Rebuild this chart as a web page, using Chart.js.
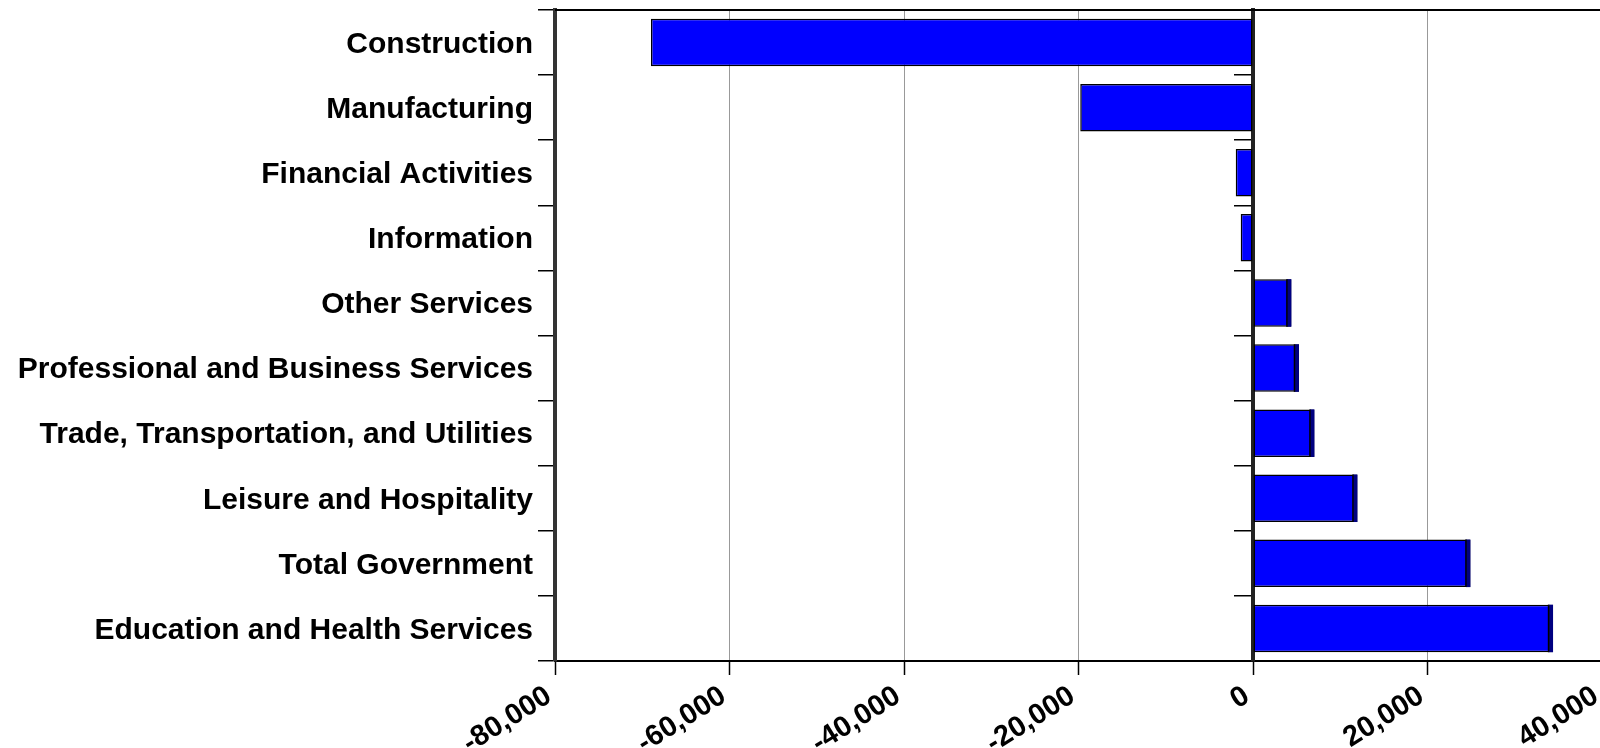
<!DOCTYPE html>
<html>
<head>
<meta charset="utf-8">
<script src="https://cdn.jsdelivr.net/npm/chart.js@4.4.1/dist/chart.umd.min.js"></script>
<style>
  html, body { margin: 0; padding: 0; background: #fff; overflow: hidden; }
  #wrap { position: relative; width: 1602px; height: 748px; }
</style>
</head>
<body>
<div id="wrap"><canvas id="chart"></canvas></div>
<script>
const industries = [
    'Construction',
    'Manufacturing',
    'Financial Activities',
    'Information',
    'Other Services',
    'Professional and Business Services',
    'Trade, Transportation, and Utilities',
    'Leisure and Hospitality',
    'Total Government',
    'Education and Health Services'
];
const jobChange = [-69000, -19800, -1980, -1410, 4400, 5270, 7040, 11970, 24920, 34390];
const xTicks = [-80000, -60000, -40000, -20000, 0, 20000, 40000];

const FONT = "'Liberation Sans', Arial, sans-serif";

// dark "depth" strip at the end of the positive bars + top frame line
const barEnds = {
    id: 'barEnds',
    afterDatasetsDraw(chart) {
        const ctx = chart.ctx;
        const meta = chart.getDatasetMeta(0);
        meta.data.forEach((bar, i) => {
            if (jobChange[i] <= 0) return;
            const p = bar.getProps(['x', 'y', 'height'], true);
            const w = 4.5;
            ctx.save();
            ctx.fillStyle = '#000080';
            ctx.fillRect(p.x - w, p.y - p.height / 2, w, p.height);
            ctx.strokeStyle = '#000';
            ctx.lineWidth = 1.5;
            ctx.beginPath();
            ctx.moveTo(p.x - w, p.y - p.height / 2);
            ctx.lineTo(p.x - w, p.y + p.height / 2);
            ctx.stroke();
            ctx.restore();
        });
    },
    afterDraw(chart) {
        const a = chart.chartArea;
        const ctx = chart.ctx;
        ctx.save();
        ctx.strokeStyle = '#000';
        ctx.lineWidth = 2;
        ctx.beginPath();
        ctx.moveTo(a.left, a.top);
        ctx.lineTo(a.right, a.top);
        ctx.stroke();
        ctx.restore();
    }
};

new Chart(document.getElementById('chart'), {
    type: 'bar',
    data: {
        labels: industries,
        datasets: [{
            data: jobChange,
            backgroundColor: '#0000ff',
            borderColor: '#000',
            borderWidth: 1.5,
            borderSkipped: false,
            barPercentage: 0.73,
            categoryPercentage: 1
        }]
    },
    options: {
        indexAxis: 'y',
        responsive: true,
        maintainAspectRatio: false,
        animation: false,
        layout: { padding: { top: 10, left: 0, right: 0, bottom: 0 } },
        plugins: { legend: { display: false }, tooltip: { enabled: false } },
        scales: {
            x: {
                type: 'linear',
                min: -80000,
                max: 40000,
                afterBuildTicks: s => { s.ticks = xTicks.map(v => ({ value: v })); },
                afterFit: s => { s.height = 87; s.paddingLeft = 0; s.paddingRight = 0; },
                ticks: {
                    autoSkip: false,
                    minRotation: 32,
                    maxRotation: 32,
                    padding: 4,
                    labelOffset: -6,
                    color: '#000',
                    font: { family: FONT, size: 29, weight: 'bold' },
                    callback: v => v.toLocaleString('en-US')
                },
                grid: { color: '#999', lineWidth: 1, tickLength: 14, tickColor: '#000', tickWidth: 1.5 },
                border: { color: '#000', width: 2 }
            },
            y: {
                position: 'left',
                afterFit: s => { s.width = 555; s.paddingTop = 0; s.paddingBottom = 0; },
                offset: true,
                ticks: {
                    padding: 5,
                    labelOffset: 2,
                    color: '#000',
                    font: { family: FONT, size: 30, weight: 'bold' }
                },
                grid: { offset: true, drawOnChartArea: false, tickLength: 17, color: '#000', lineWidth: 1.5 },
                border: { color: '#333', width: 4 }
            },
            y2: {
                type: 'category',
                axis: 'y',
                position: { x: 0 },
                offset: true,
                z: 1,
                ticks: { display: false },
                grid: { offset: true, drawOnChartArea: false, tickLength: 17, color: '#000', lineWidth: 1.5 },
                border: { color: '#222', width: 4 }
            }
        }
    },
    plugins: [barEnds]
});
</script>
</body>
</html>
